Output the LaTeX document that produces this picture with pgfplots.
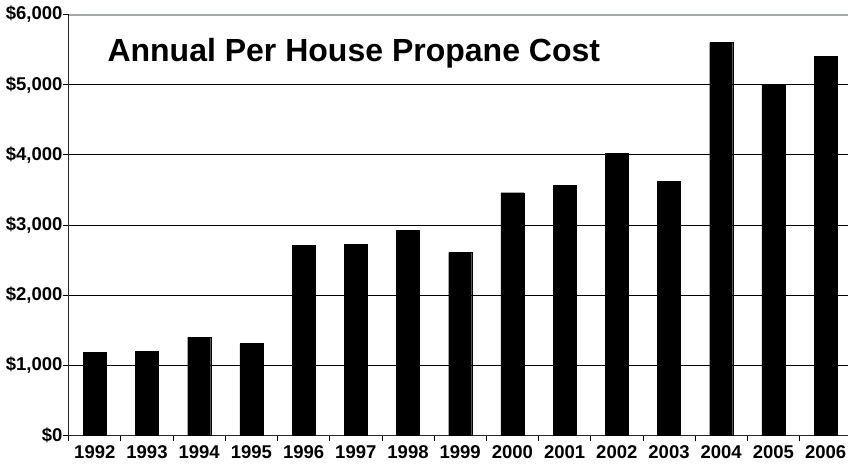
\documentclass[border=0pt]{standalone}
\usepackage{pgfplots}
\pgfplotsset{compat=1.18}
\usepackage{fontspec}
\setmainfont{Liberation Sans}
\definecolor{topgray}{RGB}{160,168,168}
\begin{document}
\begin{tikzpicture}
\useasboundingbox (-68.7pt,-30.5pt) rectangle (779.3pt,435.5pt);
\begin{axis}[
  at={(0pt,0pt)}, anchor=south west,
  scale only axis, width=779.3pt, height=421pt,
  xmin=-0.5, xmax=14.429, ymin=0, ymax=6000,
  axis x line*=bottom, axis y line*=left,
  axis line style={line width=1.2pt, color=black!85},
  tick align=outside,
  major tick length=5.5pt, minor tick length=5.5pt,
  tick style={black, line width=0.8pt},
  xtick={0,...,14},
  xticklabels={1992,1993,1994,1995,1996,1997,1998,1999,2000,2001,2002,2003,2004,2005,2006},
  minor xtick={-0.5,0.5,...,13.5},
  major x tick style={draw=none},
  ytick={0,1000,...,6000},
  yticklabels={\$0,{\$1,000},{\$2,000},{\$3,000},{\$4,000},{\$5,000},{\$6,000}},
  ymajorgrids,
  grid style={black, line width=0.8pt},
  ticklabel style={font=\fontsize{18.5}{18.5}\selectfont\bfseries},
  yticklabel style={inner sep=0.5pt},
  xticklabel style={yshift=-1pt},
]
\addplot[ybar, bar width=23pt, fill=black, draw=black] coordinates {
  (0,1190) (1,1200) (2,1400) (3,1310) (4,2710) (5,2720) (6,2920) (7,2610)
  (8,3460) (9,3565) (10,4020) (11,3620) (12,5600) (13,5000) (14,5400)
};
\draw[topgray, line width=2pt] (rel axis cs:0,1) -- (rel axis cs:1,1);
\node[anchor=base west, font=\fontsize{32}{32}\selectfont\bfseries]
  at (rel axis cs:0.0453,0.888) {Annual Per House Propane Cost};
\end{axis}
\end{tikzpicture}
\end{document}
